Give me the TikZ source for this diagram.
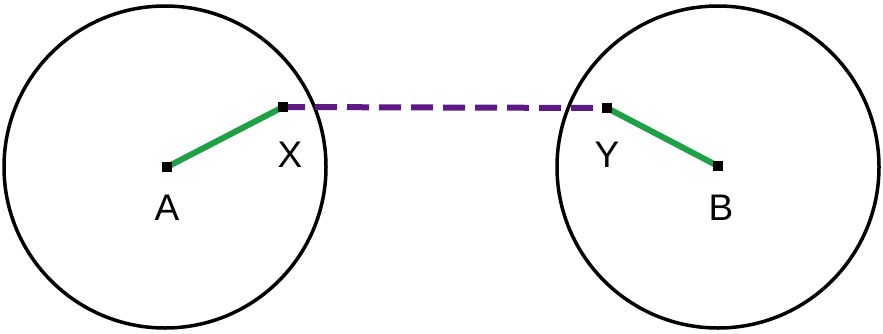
\documentclass[tikz,border=0pt]{standalone}
\usepackage{fontspec}
\setmainfont{Liberation Sans}
\definecolor{lgreen}{RGB}{30,160,70}
\definecolor{lpurple}{RGB}{95,25,135}
\begin{document}
\begin{tikzpicture}[x=1pt,y=-1pt,
  circ/.style={draw=black,line width=3.5pt},
  pt/.style={fill=black,minimum size=10pt,inner sep=0pt,outer sep=0pt},
  seg/.style={lgreen,line width=6pt},
  link/.style={lpurple,line width=6pt,dash pattern=on 22pt off 10pt},
  lab/.style={font=\fontsize{37}{37}\selectfont,inner sep=0pt}]
\useasboundingbox (0,0) rectangle (883,333);
\draw[circ] (165,167) circle (161);
\draw[circ] (718,167) circle (161);
\node[pt] (A) at (167,167) {};
\node[pt] (X) at (283,107) {};
\node[pt] (Y) at (607,108) {};
\node[pt] (B) at (718,166) {};
\draw[seg] (A.center) -- (X.center);
\draw[seg] (Y.center) -- (B.center);
\draw[link] (X.center) -- (Y.center);
\node[pt] at (A) {};
\node[pt] at (X) {};
\node[pt] at (Y) {};
\node[pt] at (B) {};
\node[lab] (lA) at (167,208) {A};
\node[lab] (lX) at (290,155) {X};
\node[lab] (lY) at (607,155) {Y};
\node[lab] (lB) at (721,208) {B};
\end{tikzpicture}
\end{document}
